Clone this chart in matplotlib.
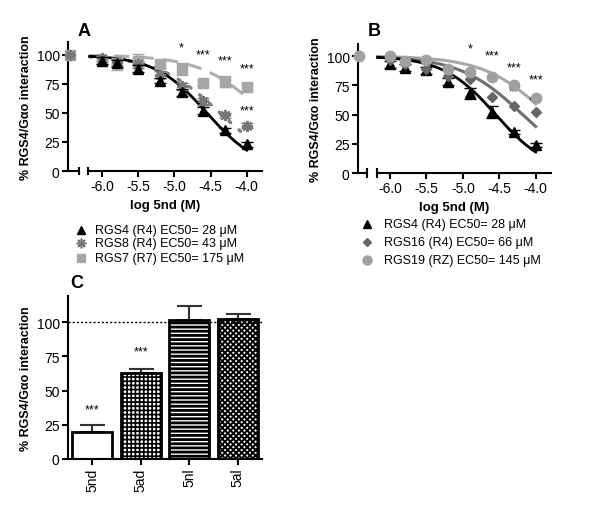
import numpy as np
import matplotlib.pyplot as plt
from matplotlib.lines import Line2D

plt.rcParams['font.family'] = ['Liberation Sans', 'DejaVu Sans']

#1. Data
log_conc = [-6.0, -5.8, -5.5, -5.2, -4.9, -4.6, -4.3, -4.0]
ctrl_x = -6.44

#panel A
a_rgs4 = [95, 93, 88, 78, 68, 52, 35, 23]
a_rgs4_err = [3, 3, 3, 2, 3, 3, 2, 2]
a_rgs8 = [97, 94, 92, 83, 73, 60, 48, 39]
a_rgs8_err = [2, 3, 3, 3, 3, 3, 2, 2]
a_rgs7 = [95, 93, 95, 92, 88, 76, 77, 72]
a_rgs7_err = [3, 6, 6, 3, 5, 2, 5, 3]

#panel B
b_rgs4 = [93, 90, 88, 78, 68, 52, 35, 24]
b_rgs4_err = [3, 3, 3, 3, 5, 5, 2, 2]
b_rgs16 = [97, 93, 89, 83, 80, 65, 57, 52]
b_rgs19 = [100, 96, 97, 89, 86, 82, 75, 64]

#fitted sigmoid parameters: logEC50, hill slope
fit_a = {"RGS4": (-4.55, 1.2), "RGS8": (-4.37, 1.0), "RGS7": (-3.76, 1.0)}
fit_b = {"RGS4": (-4.55, 1.2), "RGS16": (-4.18, 1.0), "RGS19": (-3.84, 1.0)}

#significance stars: (x, y, text)
stars_a = [(-4.9, 101, "*"), (-4.6, 95, "***"), (-4.3, 90, "***"), (-4.0, 83, "***"), (-4.0, 47, "***")]
stars_b = [(-4.9, 101, "*"), (-4.6, 95, "***"), (-4.3, 85, "***"), (-4.0, 75, "***"),
           (-4.6, 72, "*"), (-4.3, 65, "**"), (-4.0, 57, "***")]

#panel C
compounds = ["5nd", "5ad", "5nl", "5al"]
c_values = [20, 63, 101.5, 102]
c_err = [4.5, 3, 10, 4]
c_hatches = ["", "++++", "----", "xxxxxx"]
c_hatch_lw = [1.0, 1.2, 2.0, 1.4]

W, H = 600, 510
fig = plt.figure(figsize=(W / 100, H / 100), dpi=100)

def px_axes(left, top, right, bottom):
    return fig.add_axes([left / W, 1 - bottom / H, (right - left) / W, (bottom - top) / H])

def sigmoid(x, logec, hill):
    return 100 / (1 + 10 ** ((x - logec) * hill))

ylab = "% RGS4/G\u03b1o interaction"

def style_dose_axes(ax, xmin, ylim_top, seg_start, left_end):
    ax.set_xlim(xmin, -3.79)
    ax.set_ylim(0, ylim_top)
    for s in ["top", "right", "bottom"]:
        ax.spines[s].set_visible(False)
    ax.spines["left"].set_linewidth(1.5)
    ax.spines["left"].set_bounds(0, ylim_top)
    ax.set_yticks([0, 25, 50, 75, 100])
    ax.set_xticks([-6.0, -5.5, -5.0, -4.5, -4.0])
    ax.set_xticklabels(["-6.0", "-5.5", "-5.0", "-4.5", "-4.0"])
    ax.tick_params(labelsize=10, width=1.5, length=4, pad=2)
    #broken x axis
    ax.plot([xmin, left_end], [0, 0], color="black", lw=1.5, clip_on=False, zorder=5)
    ax.plot([seg_start, -3.79], [0, 0], color="black", lw=1.5, clip_on=False, zorder=5)
    for bx in [left_end, seg_start]:
        ax.plot([bx, bx], [-3, 3], color="black", lw=1.5, clip_on=False, zorder=5)
    ax.set_xlabel("log 5nd (M)", fontsize=9.5, fontweight="bold", labelpad=4)
    ax.set_ylabel(ylab, fontsize=9, fontweight="bold", labelpad=3)

xs = np.linspace(-6.17, -4.0, 200)

#2. Panel A
axA = px_axes(68, 43, 262, 172)
style_dose_axes(axA, -6.47, 111.2, -6.19, -6.32)

axA.plot(xs, sigmoid(xs, *fit_a["RGS7"]), color="#b0b0b0", lw=2.2, ls=(0, (5, 3)), zorder=1)
axA.plot(xs, sigmoid(xs, *fit_a["RGS8"]), color="#808080", lw=2.5, ls=(0, (0.6, 3.2)), dash_capstyle="round", zorder=1)
axA.plot(xs, sigmoid(xs, *fit_a["RGS4"]), color="black", lw=2, zorder=2)

axA.errorbar(log_conc, a_rgs7, yerr=a_rgs7_err, fmt="s", color="#a6a6a6", ms=6.5, capsize=4, elinewidth=1.2, zorder=3)
axA.errorbar(log_conc, a_rgs8, yerr=a_rgs8_err, fmt="none", ecolor="#777777", capsize=4, elinewidth=1.2, zorder=3)
axA.plot(log_conc, a_rgs8, ls="none", marker=(8, 2, 0), ms=8, mew=1.4, color="#777777", zorder=4)
axA.errorbar(log_conc, a_rgs4, yerr=a_rgs4_err, fmt="^", color="black", ms=7, capsize=4, elinewidth=1.2, zorder=5)
axA.plot([ctrl_x], [100], marker="s", color="#a6a6a6", ms=6.5, clip_on=False, zorder=6)
axA.plot([ctrl_x], [100], marker=(8, 2, 0), color="#777777", ms=8, mew=1.4, clip_on=False, zorder=7)
for x, y, t in stars_a:
    axA.text(x, y, t, ha="center", va="bottom", fontsize=9)
fig.text(78 / W, 1 - 32 / H, "A", fontsize=13, fontweight="bold", ha="left", va="center")

#3. Panel B
axB = px_axes(358, 45, 551, 174)
style_dose_axes(axB, -6.44, 110.3, -6.18, -6.31)

axB.plot(xs, sigmoid(xs, *fit_b["RGS19"]), color="#a8a8a8", lw=2.2, zorder=1)
axB.plot(xs, sigmoid(xs, *fit_b["RGS16"]), color="#6e6e6e", lw=2.2, zorder=1)
axB.plot(xs, sigmoid(xs, *fit_b["RGS4"]), color="black", lw=2, zorder=2)

axB.errorbar(log_conc, b_rgs4, yerr=b_rgs4_err, fmt="^", color="black", ms=7, capsize=4, elinewidth=1.2, zorder=3)
axB.plot(log_conc, b_rgs16, ls="none", marker="D", color="#666666", ms=5.5, zorder=4)
axB.plot(log_conc, b_rgs19, ls="none", marker="o", color="#a0a0a0", ms=7.5, zorder=5)
axB.plot([-6.42], [100], marker="o", color="#a0a0a0", ms=7.5, clip_on=False, zorder=6)
for x, y, t in stars_b:
    axB.text(x, y, t, ha="center", va="bottom", fontsize=9)
fig.text(368 / W, 1 - 32 / H, "B", fontsize=13, fontweight="bold", ha="left", va="center")

#4. Legends (manual placement)
leg_a = [("^", "black", 6, 1.0, "RGS4 (R4) EC50= 28 \u03bcM", 231),
         ((8, 2, 0), "#777777", 7, 1.2, "RGS8 (R4) EC50= 43 \u03bcM", 244),
         ("s", "#a6a6a6", 5.5, 1.0, "RGS7 (R7) EC50= 175 \u03bcM", 259)]
leg_b = [("^", "black", 6, 1.0, "RGS4 (R4) EC50= 28 \u03bcM", 225),
         ("D", "#666666", 4.5, 1.0, "RGS16 (R4) EC50= 66 \u03bcM", 243),
         ("o", "#a0a0a0", 6.5, 1.0, "RGS19 (RZ) EC50= 145 \u03bcM", 261)]
for items, mx, tx in [(leg_a, 81, 95), (leg_b, 367, 384)]:
    for mk, col, ms, mew, label, y in items:
        fig.add_artist(Line2D([mx / W], [1 - y / H], marker=mk, color=col, ms=ms, mew=mew,
                              ls="none", transform=fig.transFigure))
        fig.text(tx / W, 1 - y / H, label, fontsize=9, ha="left", va="center")

#5. Panel C
axC = px_axes(68, 297, 262, 460)
for i in range(len(compounds)):
    with plt.rc_context({"hatch.linewidth": c_hatch_lw[i]}):
        bar = axC.bar(i, c_values[i], width=0.83, color="white", edgecolor="black",
                      linewidth=2, hatch=c_hatches[i], zorder=2)
    axC.errorbar(i, c_values[i], yerr=[[0], [c_err[i]]], fmt="none", ecolor="#333333",
                 elinewidth=1.5, capsize=9, capthick=1.5, zorder=1)
axC.axhline(100, color="black", ls=(0, (1.5, 1.5)), lw=1, zorder=3)
axC.text(0, 32, "***", ha="center", va="bottom", fontsize=9)
axC.text(1, 74, "***", ha="center", va="bottom", fontsize=9)
axC.set_xlim(-0.5, 3.5)
axC.set_ylim(0, 119)
axC.set_yticks([0, 25, 50, 75, 100])
axC.set_xticks(range(len(compounds)))
axC.set_xticklabels(compounds, rotation=90)
for s in ["top", "right"]:
    axC.spines[s].set_visible(False)
for s in ["left", "bottom"]:
    axC.spines[s].set_linewidth(1.5)
axC.tick_params(labelsize=10, width=1.5, length=4, pad=2)
axC.set_ylabel(ylab, fontsize=9, fontweight="bold", labelpad=3)
fig.text(77 / W, 1 - 284 / H, "C", fontsize=13, fontweight="bold", ha="center", va="center")

fig.savefig("out.png", dpi=100)
